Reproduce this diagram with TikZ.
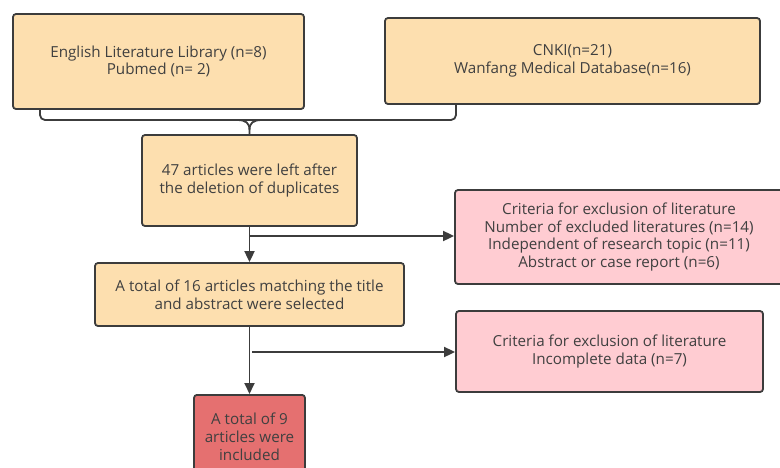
\documentclass[tikz,border=0pt]{standalone}
\usepackage{fontspec}
\setmainfont{Open Sans}
\usetikzlibrary{arrows.meta}
\definecolor{peach}{HTML}{FDDFAF}
\definecolor{pinkbox}{HTML}{FFCCD2}
\definecolor{redbox}{HTML}{E57070}
\definecolor{edge}{HTML}{3C3C3C}
\definecolor{txt}{HTML}{404040}
\tikzset{
  box/.style={draw=edge, line width=1.8pt, rounded corners=3pt, align=center,
    text=txt, font=\fontsize{15.2}{17.8}\selectfont, inner sep=0pt},
  peachbox/.style={box, fill=peach},
  pinkb/.style={box, fill=pinkbox},
  redb/.style={box, fill=redbox},
  conn/.style={draw=edge, line width=1.8pt},
  arr/.style={conn, -{Triangle[length=11pt,width=10pt]}},
}
\begin{document}
\begin{tikzpicture}[x=1pt,y=-1pt]
\useasboundingbox (0,0) rectangle (780,467);
\node[peachbox, minimum width=291pt, minimum height=95pt] (A) at (158.5,61.5)
  {English Literature Library (n=8)\\Pubmed (n=~2)};
\node[peachbox, minimum width=375pt, minimum height=86pt] (B) at (572.5,61)
  {CNKI(n=21)\\Wanfang Medical Database(n=16)};
\node[peachbox, minimum width=215pt, minimum height=91pt] (C) at (249.5,180.5)
  {47 articles were left after\\the deletion of duplicates};
\node[pinkb, minimum width=328pt, minimum height=94pt] (E) at (619,237)
  {Criteria for exclusion of literature\\Number of excluded literatures (n=14)\\Independent of research topic (n=11)\\Abstract or case report (n=6)};
\node[peachbox, minimum width=309pt, minimum height=63pt] (D) at (249.5,294.5)
  {A total of 16 articles matching the title\\and abstract were selected};
\node[pinkb, minimum width=307pt, minimum height=81pt] (G) at (609.5,351.5)
  {Criteria for exclusion of literature\\Incomplete data (n=7)};
\node[redb, minimum width=111pt, minimum height=84pt, anchor=north] (F) at (249.5,394)
  {A total of 9\\articles were\\included};
% brace
\coordinate (bl) at (40,109);
\coordinate (br) at (456,104);
\draw[conn, rounded corners=5pt] (bl) -- (40,120) -- (456,120) -- (br);
\draw[conn] (C.north) -- (249.5,130) .. controls (249.5,123) and (246,120) .. (237,120);
\draw[conn] (249.5,130) .. controls (249.5,123) and (253,120) .. (262,120);
% arrows
\draw[arr] (C.south) -- (D.north);
\coordinate (j1) at (249.5,236);
\draw[arr] (j1) -- (E.west |- j1);
\draw[arr] (D.south) -- (F.north);
\coordinate (j2) at (252,352);
\draw[arr] (j2) -- (G.west |- j2);
\end{tikzpicture}
\end{document}
